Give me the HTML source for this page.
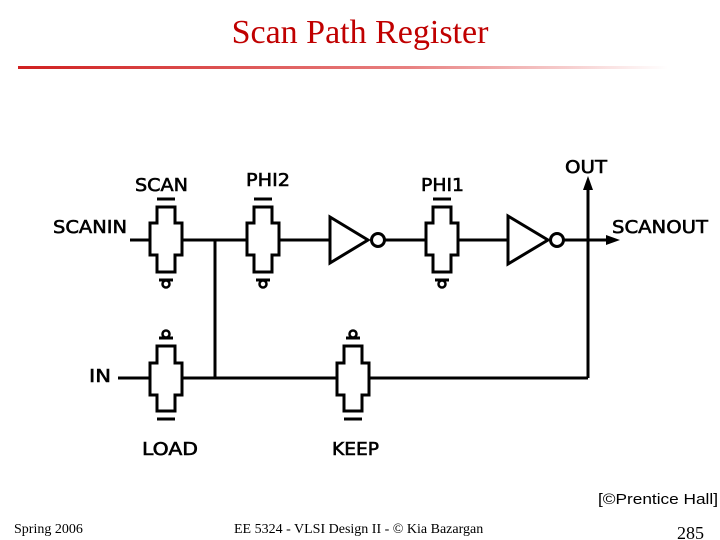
<!DOCTYPE html>
<html><head><style>
body{margin:0;width:720px;height:540px;background:#fff;overflow:hidden;position:relative;font-family:"Liberation Serif",serif}
.t{position:absolute;left:0;width:720px;top:14px;text-align:center;font-size:34px;color:#c00000}
</style></head><body>
<div class="t">Scan Path Register</div>
<svg width="720" height="540" style="position:absolute;left:0;top:0">
<defs>
<linearGradient id="g" x1="0" x2="1"><stop offset="0" stop-color="#d02020"/><stop offset="0.6" stop-color="#e88080"/><stop offset="1" stop-color="#fff"/></linearGradient>
<g id="tg"><path d="M-9,-33H9V-17H16V15H9V32H-9V15H-16V-17H-9Z" fill="#fff" stroke="#000" stroke-width="3"/></g>
</defs>
<rect x="18" y="66" width="650" height="3" fill="url(#g)"/>
<g stroke="#000" stroke-width="3" fill="none">
<line x1="130" y1="240" x2="150" y2="240"/>
<line x1="182" y1="240" x2="247" y2="240"/>
<line x1="279" y1="240" x2="330" y2="240"/>
<line x1="384" y1="240" x2="426" y2="240"/>
<line x1="458" y1="240" x2="508" y2="240"/>
<line x1="564" y1="240" x2="610" y2="240"/>
<line x1="215" y1="240" x2="215" y2="378"/>
<line x1="588" y1="186" x2="588" y2="378"/>
<line x1="118" y1="378" x2="150" y2="378"/>
<line x1="182" y1="378" x2="337" y2="378"/>
<line x1="369" y1="378" x2="588" y2="378"/>
<path d="M330,217L368,240L330,263Z" fill="#fff"/>
<circle cx="378" cy="240" r="6.5" fill="#fff"/>
<path d="M508,216L548,240L508,264Z" fill="#fff"/>
<circle cx="557" cy="240" r="6.5" fill="#fff"/>
</g>
<path d="M588,176L583,190H593Z" fill="#000"/>
<path d="M620,240L606,235V245Z" fill="#000"/>
<use href="#tg" x="166" y="240"/><use href="#tg" x="263" y="240"/><use href="#tg" x="442" y="240"/>
<use href="#tg" x="166" y="378" transform="rotate(180 166 378)"/>
<use href="#tg" x="353" y="378" transform="rotate(180 353 378)"/>
<g stroke="#000" stroke-width="3" fill="none">
<line x1="157" y1="199" x2="175" y2="199"/><line x1="254" y1="199" x2="272" y2="199"/><line x1="433" y1="199" x2="451" y2="199"/>
<line x1="157" y1="419" x2="175" y2="419"/><line x1="344" y1="419" x2="362" y2="419"/>
<line x1="159" y1="280" x2="173" y2="280"/><line x1="256" y1="280" x2="270" y2="280"/><line x1="435" y1="280" x2="449" y2="280"/>
<line x1="159" y1="338" x2="173" y2="338"/><line x1="346" y1="338" x2="360" y2="338"/>
</g>
<g fill="#fff" stroke="#000" stroke-width="2.5">
<circle cx="166" cy="284" r="3.5"/><circle cx="263" cy="284" r="3.5"/><circle cx="442" cy="284" r="3.5"/>
<circle cx="166" cy="334" r="3.5"/><circle cx="353" cy="334" r="3.5"/>
</g>
<g font-family="'DejaVu Sans',sans-serif" font-size="18" fill="#000" stroke="#000" stroke-width="0.6">
<text x="135" y="191" textLength="53" lengthAdjust="spacingAndGlyphs">SCAN</text><text x="246" y="186" textLength="44" lengthAdjust="spacingAndGlyphs">PHI2</text><text x="421" y="191" textLength="43" lengthAdjust="spacingAndGlyphs">PHI1</text>
<text x="565" y="173" textLength="42" lengthAdjust="spacingAndGlyphs">OUT</text><text x="53" y="233" textLength="74" lengthAdjust="spacingAndGlyphs">SCANIN</text><text x="612" y="233" textLength="96" lengthAdjust="spacingAndGlyphs">SCANOUT</text>
<text x="89" y="382" textLength="22" lengthAdjust="spacingAndGlyphs">IN</text><text x="142" y="455" textLength="56" lengthAdjust="spacingAndGlyphs">LOAD</text><text x="332" y="455" textLength="47" lengthAdjust="spacingAndGlyphs">KEEP</text>
</g>
<text x="598" y="504" font-family="'Liberation Sans',sans-serif" font-size="15" textLength="120" lengthAdjust="spacingAndGlyphs">[©Prentice Hall]</text>
<text x="14" y="533" font-size="14">Spring 2006</text>
<text x="234" y="533" font-size="14">EE 5324 - VLSI Design II - © Kia Bazargan</text>
<text x="677" y="539" font-size="18">285</text>
</svg>
</body></html>
